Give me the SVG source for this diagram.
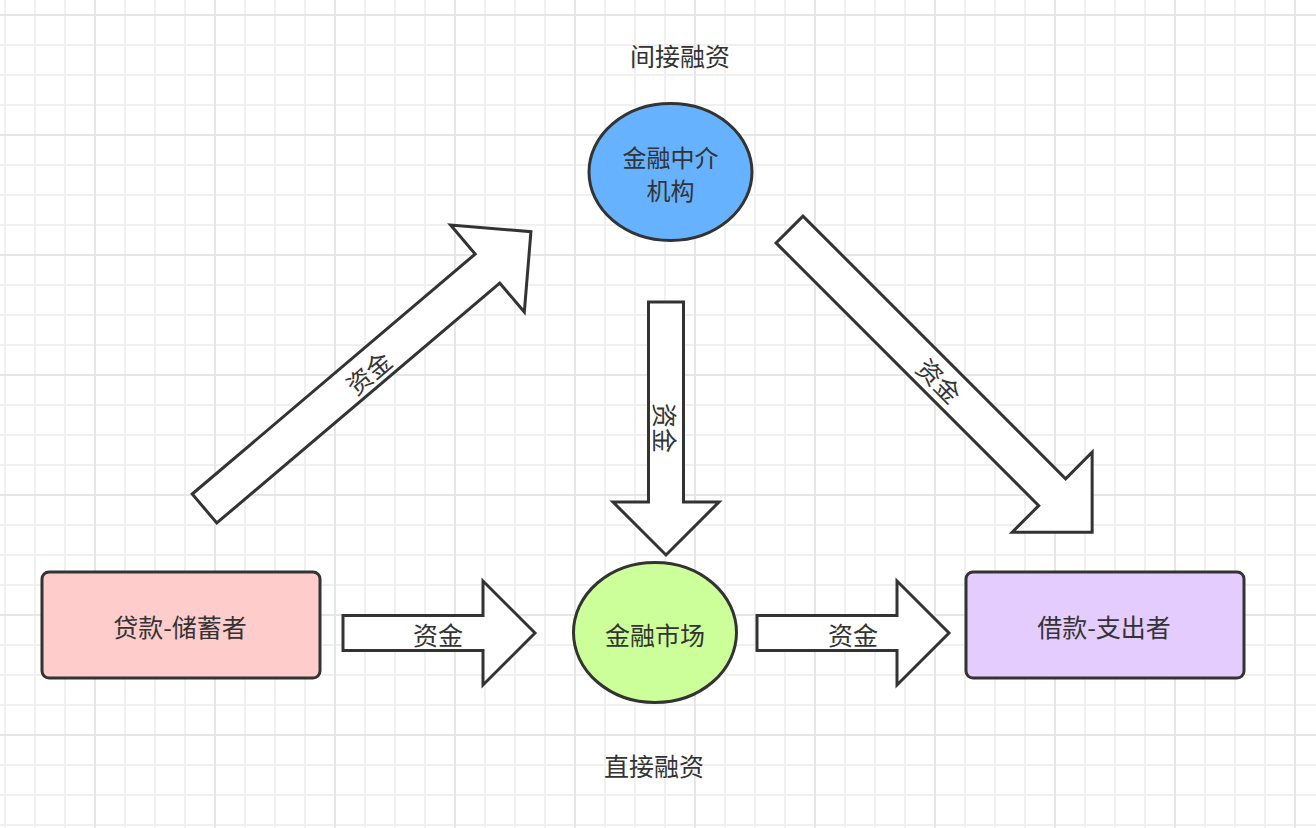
<svg xmlns="http://www.w3.org/2000/svg" width="1316" height="828" viewBox="0 0 1316 828">
  <defs>
    <pattern id="grid" patternUnits="userSpaceOnUse" x="94" y="14" width="120" height="120">
      <rect x="0" y="0" width="120" height="120" fill="#ffffff"/>
      <g fill="#f0f0f0">
        <rect x="30" y="0" width="2" height="120"/>
        <rect x="60" y="0" width="2" height="120"/>
        <rect x="90" y="0" width="2" height="120"/>
        <rect x="0" y="30" width="120" height="2"/>
        <rect x="0" y="60" width="120" height="2"/>
        <rect x="0" y="90" width="120" height="2"/>
      </g>
      <g fill="#e6e6e6">
        <rect x="0" y="0" width="2" height="120"/>
        <rect x="0" y="0" width="120" height="2"/>
      </g>
    </pattern>
    <style>
      .lbl { font-family: "Noto Sans CJK SC", "Noto Sans", sans-serif; font-size: 25px; fill: #333333; text-anchor: middle; dominant-baseline: central; }
      .node { stroke: #333333; stroke-width: 3; }
      .arrow { fill: #ffffff; stroke: #333333; stroke-width: 3; stroke-linejoin: miter; }
    </style>
  </defs>

  <rect x="0" y="0" width="1316" height="828" fill="url(#grid)"/>

  <g id="connectors">
    <g id="arrow-saver-to-market">
      <path class="arrow" transform="translate(343,633)" d="M0,-17.5 L140,-17.5 L140,-52 L192,0 L140,52 L140,17.5 L0,17.5 Z"/>
      <text class="lbl" x="438" y="634">资金</text>
    </g>
    <g id="arrow-market-to-borrower">
      <path class="arrow" transform="translate(757,633)" d="M0,-17.5 L140,-17.5 L140,-52 L192,0 L140,52 L140,17.5 L0,17.5 Z"/>
      <text class="lbl" x="853" y="634">资金</text>
    </g>
    <g id="arrow-intermediary-to-market">
      <path class="arrow" transform="translate(666,302) rotate(90)" d="M0,-17.5 L200,-17.5 L200,-53 L253,0 L200,53 L200,17.5 L0,17.5 Z"/>
      <text class="lbl" x="666" y="428" transform="rotate(90 666 428)">资金</text>
    </g>
    <g id="arrow-saver-to-intermediary">
      <path class="arrow" transform="translate(204.5,508.5) rotate(-40.3)" d="M0,-19 L371,-19 L371,-57 L428,0 L371,57 L371,19 L0,19 Z"/>
      <text class="lbl" x="368" y="372" transform="rotate(-40.3 368 372)">资金</text>
    </g>
    <g id="arrow-intermediary-to-borrower">
      <path class="arrow" transform="translate(789.5,229.5) rotate(45)" d="M0,-19 L371.5,-19 L371.5,-56.5 L428,0 L371.5,56.5 L371.5,19 L0,19 Z"/>
      <text class="lbl" x="940" y="380" transform="rotate(45 940 380)">资金</text>
    </g>
  </g>

  <g id="node-saver">
    <rect class="node" x="42" y="572" width="278" height="106" rx="7" ry="7" fill="#ffcccc"/>
    <text class="lbl" x="180" y="626">贷款-储蓄者</text>
  </g>

  <g id="node-borrower">
    <rect class="node" x="966" y="572" width="278" height="106" rx="7" ry="7" fill="#e5ccff"/>
    <text class="lbl" x="1104" y="626">借款-支出者</text>
  </g>

  <g id="node-intermediary">
    <ellipse class="node" cx="670.5" cy="172" rx="81.5" ry="68.5" fill="#66b2ff"/>
    <text class="lbl" x="670.5" y="156" style="font-size:24px">金融中介</text>
    <text class="lbl" x="670.5" y="189" style="font-size:24px">机构</text>
  </g>

  <g id="node-market">
    <ellipse class="node" cx="655" cy="632.5" rx="81.5" ry="70" fill="#ccff99"/>
    <text class="lbl" x="655" y="634">金融市场</text>
  </g>

  <g id="label-indirect">
    <text class="lbl" x="680" y="55">间接融资</text>
  </g>
  <g id="label-direct">
    <text class="lbl" x="654" y="765">直接融资</text>
  </g>
</svg>
